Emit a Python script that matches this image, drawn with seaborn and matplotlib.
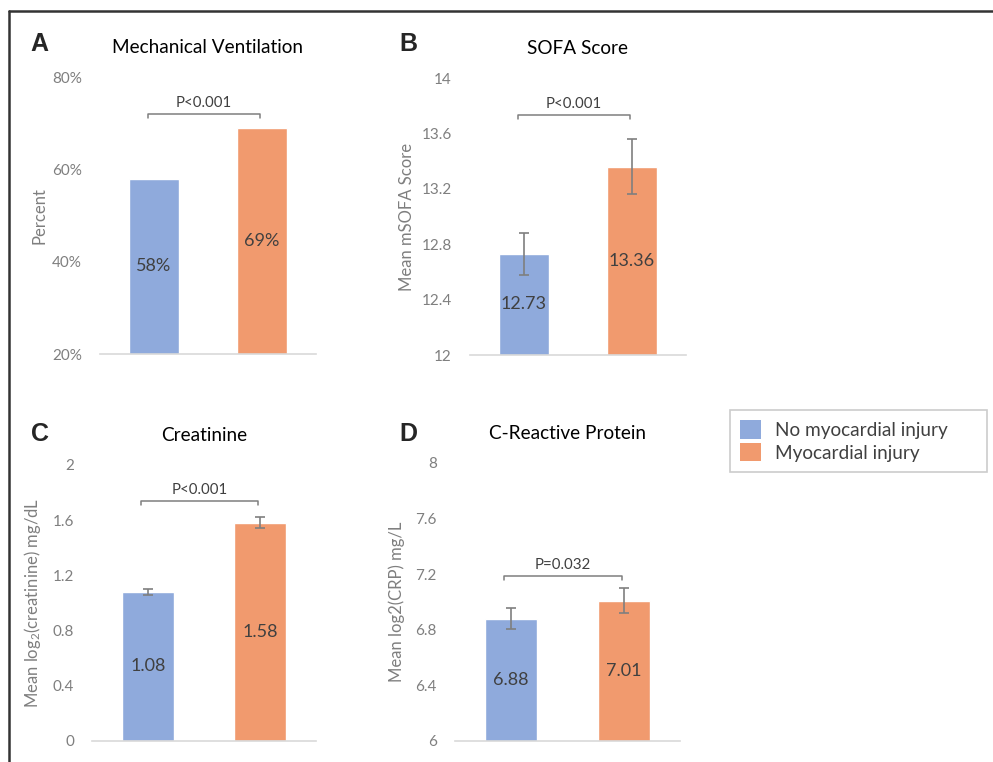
import numpy as np
import pandas as pd
import seaborn as sns
import matplotlib.pyplot as plt
from matplotlib.patches import Patch
from matplotlib.lines import Line2D
from matplotlib.ticker import FuncFormatter

sns.set_style("white")
plt.rcParams['font.family'] = ['Lato', 'DejaVu Sans']
plt.rcParams['mathtext.fontset'] = 'custom'
plt.rcParams['mathtext.rm'] = 'Lato'
plt.rcParams['mathtext.default'] = 'regular'

# data
groups = ['No myocardial injury', 'Myocardial injury']
palette = ['#8FAADC', '#F19A6E']

mech_vent = [58, 69]
sofa = [12.73, 13.36]
sofa_err = [0.15, 0.20]
creat = [1.08, 1.58]
creat_err = [0.02, 0.04]
crp = [6.88, 7.01]
crp_err = [0.075, 0.09]

tick_color = '#7F7F7F'
label_color = '#404040'

fig = plt.figure(figsize=(9.93, 7.62), dpi=100)

# panel layout: [left, bottom, width, height]
ax_a = fig.add_axes([0.1007, 0.5354, 0.2175, 0.3635])
ax_b = fig.add_axes([0.4733, 0.5341, 0.2175, 0.3635])
ax_c = fig.add_axes([0.0926, 0.0276, 0.2256, 0.3622])
ax_d = fig.add_axes([0.4582, 0.0276, 0.2266, 0.3648])

panels = [
    (ax_a, mech_vent, None, 'Mechanical Ventilation', 'Percent', (20, 80), [20, 40, 60, 80],
     'P<0.001', 72.0, 'A', '{:.0f}%', -0.245),
    (ax_b, sofa, sofa_err, 'SOFA Score', 'Mean mSOFA Score', (12, 14), [12, 12.4, 12.8, 13.2, 13.6, 14],
     'P<0.001', 13.733, 'B', '{:.2f}', -0.255),
    (ax_c, creat, creat_err, 'Creatinine', 'Mean log$_2$(creatinine) mg/dL', (0, 2), [0, 0.4, 0.8, 1.2, 1.6, 2],
     'P<0.001', 1.739, 'C', '{:.2f}', -0.219),
    (ax_d, crp, crp_err, 'C-Reactive Protein', 'Mean log2(CRP) mg/L', (6, 8), [6, 6.4, 6.8, 7.2, 7.6, 8],
     'P=0.032', 7.187, 'D', '{:.2f}', -0.222),
]

for ax, vals, errs, title, ylab, ylim, ticks, ptext, py, letter, fmt, labx in panels:
    df = pd.DataFrame({'group': groups, 'value': vals})
    sns.barplot(data=df, x='group', y='value', hue='group', palette=palette,
                width=0.46, legend=False, ax=ax, saturation=1)
    if errs is not None:
        ax.errorbar(groups, vals, yerr=errs, fmt='none', ecolor=tick_color,
                    elinewidth=1.2, capsize=3.5, capthick=1.2)
    ax.set_ylim(*ylim)
    ax.set_xlim(-0.5, 1.5)
    ax.set_yticks(ticks)
    if letter == 'A':
        ax.yaxis.set_major_formatter(FuncFormatter(lambda v, p: f'{v:.0f}%'))
    else:
        ax.yaxis.set_major_formatter(FuncFormatter(lambda v, p: f'{v:g}'))
    ax.tick_params(axis='y', length=0, pad=13, labelsize=11, labelcolor=tick_color)
    ax.set_xticks([])
    ax.set_xlabel('')
    ax.set_ylabel(ylab, fontsize=12, color=tick_color)
    ax.yaxis.set_label_coords(labx, 0.5)
    for s in ['top', 'right', 'left']:
        ax.spines[s].set_visible(False)
    ax.spines['bottom'].set_color('#D9D9D9')
    ax.spines['bottom'].set_linewidth(1.2)
    ax.set_title(title, fontsize=13.7, pad=17, color='black')

    # value labels centred in the visible part of each bar
    for g, v in zip(groups, vals):
        ax.text(g, (ylim[0] + v) / 2, fmt.format(v), ha='center', va='center',
                fontsize=13, color=label_color)

    # significance bracket
    span = ylim[1] - ylim[0]
    tick = span * 0.014
    ax.plot([-0.06, -0.06, 0.98, 0.98], [py - tick, py, py, py - tick],
            color=tick_color, lw=1.1, clip_on=False)
    ax.text(0.46, py + span * 0.015, ptext, ha='center', va='bottom',
            fontsize=10.8, color=label_color)

for x, y, letter in [(0.040, 0.942, 'A'), (0.411, 0.942, 'B'), (0.040, 0.431, 'C'), (0.411, 0.431, 'D')]:
    fig.text(x, y, letter, fontsize=18, fontweight='bold', family='Liberation Sans',
             ha='center', va='center')

handles = [Patch(facecolor=c, edgecolor='none', label=g) for g, c in zip(groups, palette)]
leg = fig.legend(handles=handles, loc='upper left', mode='expand',
                 bbox_to_anchor=(0.735, 0.375, 0.259, 0.087),
                 frameon=True, fancybox=False, fontsize=13.7, handlelength=1.1,
                 handleheight=1.1, handletextpad=0.7, labelspacing=0.22,
                 borderpad=0.55, borderaxespad=0)
leg.get_frame().set_edgecolor('#BFBFBF')
leg.get_frame().set_linewidth(1.2)
for t in leg.get_texts():
    t.set_color(label_color)

# outer frame (cropped box)
fig.add_artist(Line2D([9 / 993, 1], [1 - 11 / 762, 1 - 11 / 762], transform=fig.transFigure,
                      color='#333333', lw=1.8))
fig.add_artist(Line2D([9 / 993, 9 / 993], [0, 1 - 11 / 762], transform=fig.transFigure,
                      color='#333333', lw=1.8))

fig.savefig('out.png', dpi=100)
